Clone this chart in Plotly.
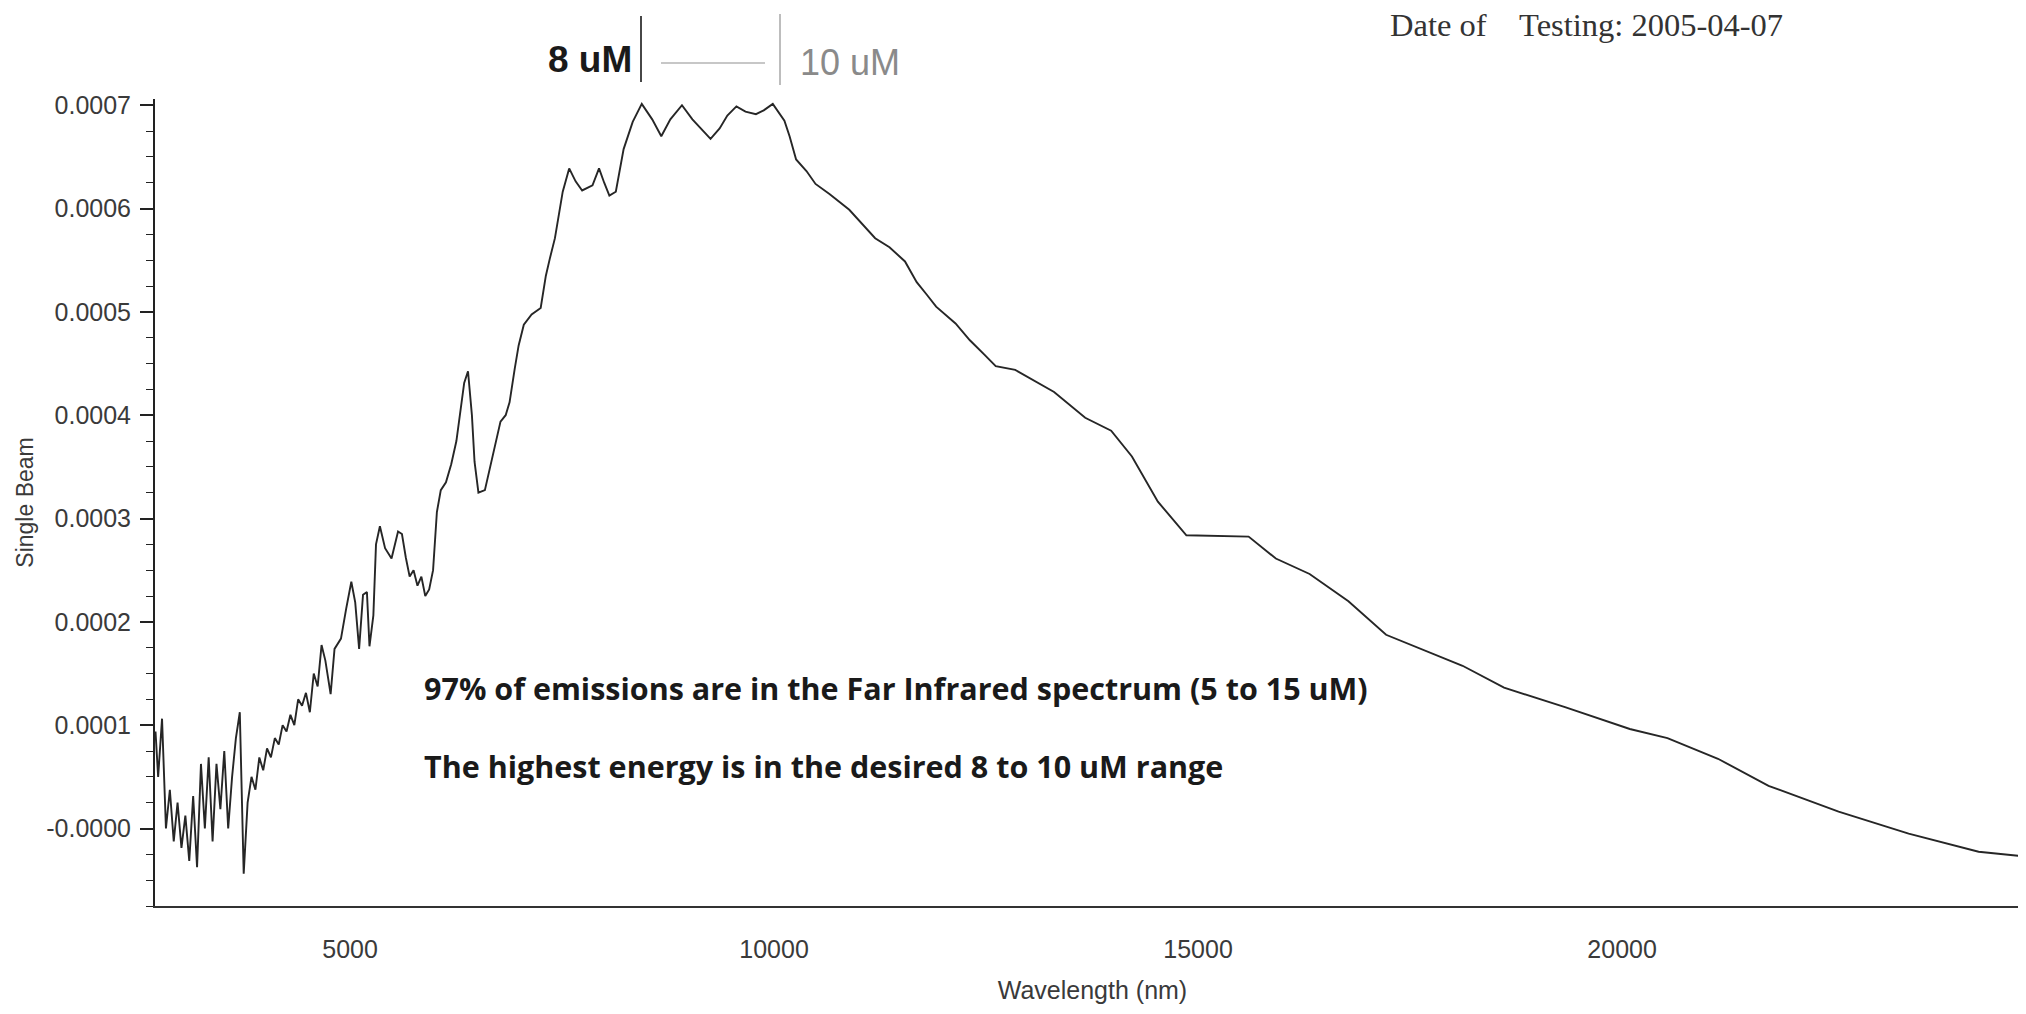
import plotly.graph_objects as go

# ---- data (wavelength in nm, single-beam signal) ----
wavelength_nm = [
    2706, 2737, 2783, 2829, 2875, 2921, 2966, 3012, 3058, 3104,
    3150, 3196, 3242, 3288, 3333, 3379, 3425, 3471, 3517, 3563,
    3609, 3654, 3700, 3746, 3792, 3838, 3884, 3930, 3976, 4021,
    4067, 4113, 4159, 4205, 4251, 4297, 4343, 4388, 4434, 4480,
    4526, 4572, 4618, 4664, 4709, 4771, 4817, 4893, 4954, 5015,
    5061, 5107, 5153, 5199, 5229, 5275, 5306, 5352, 5413, 5489,
    5566, 5612, 5657, 5703, 5749, 5795, 5841, 5887, 5933, 5979,
    6024, 6070, 6131, 6193, 6254, 6300, 6346, 6391, 6437, 6468,
    6514, 6590, 6651, 6682, 6728, 6774, 6835, 6881, 6942, 6988,
    7049, 7141, 7248, 7309, 7355, 7416, 7508, 7584, 7660, 7737,
    7859, 7936, 7997, 8058, 8134, 8226, 8333, 8440, 8563, 8670,
    8777, 8914, 9037, 9159, 9251, 9358, 9449, 9556, 9663, 9786,
    9878, 9985, 10122, 10183, 10260, 10382, 10489, 10657, 10887, 11192,
    11361, 11544, 11682, 11804, 11911, 12140, 12309, 12477, 12614, 12844,
    13058, 13302, 13669, 13975, 14220, 14526, 14862, 15596, 15917, 16315,
    16773, 17217, 18119, 18608, 19327, 20091, 20535, 21131, 21727, 22553,
    23379, 24204, 24801,
]
single_beam = [
    0.0000938, 0.0000500, 0.0001063, 0.0000000, 0.0000375, -0.0000125, 0.0000250, -0.0000188, 0.0000125, -0.0000313,
    0.0000313, -0.0000375, 0.0000625, 0.0000000, 0.0000688, -0.0000125, 0.0000625, 0.0000188, 0.0000750, 0.0000000,
    0.0000500, 0.0000875, 0.0001125, -0.0000438, 0.0000250, 0.0000500, 0.0000375, 0.0000688, 0.0000563, 0.0000775,
    0.0000688, 0.0000875, 0.0000813, 0.0001000, 0.0000938, 0.0001100, 0.0001000, 0.0001250, 0.0001188, 0.0001313,
    0.0001125, 0.0001500, 0.0001375, 0.0001775, 0.0001625, 0.0001300, 0.0001738, 0.0001838, 0.0002125, 0.0002388,
    0.0002188, 0.0001738, 0.0002263, 0.0002288, 0.0001763, 0.0002063, 0.0002750, 0.0002925, 0.0002713, 0.0002613,
    0.0002875, 0.0002850, 0.0002625, 0.0002438, 0.0002500, 0.0002350, 0.0002438, 0.0002250, 0.0002313, 0.0002500,
    0.0003063, 0.0003275, 0.0003350, 0.0003525, 0.0003750, 0.0004038, 0.0004313, 0.0004425, 0.0004000, 0.0003550,
    0.0003250, 0.0003275, 0.0003500, 0.0003625, 0.0003775, 0.0003938, 0.0004000, 0.0004125, 0.0004450, 0.0004675,
    0.0004875, 0.0004975, 0.0005038, 0.0005350, 0.0005513, 0.0005713, 0.0006163, 0.0006388, 0.0006263, 0.0006175,
    0.0006225, 0.0006388, 0.0006250, 0.0006125, 0.0006163, 0.0006575, 0.0006838, 0.0007013, 0.0006863, 0.0006700,
    0.0006863, 0.0007000, 0.0006863, 0.0006750, 0.0006675, 0.0006775, 0.0006900, 0.0006988, 0.0006938, 0.0006913,
    0.0006950, 0.0007013, 0.0006850, 0.0006700, 0.0006475, 0.0006363, 0.0006238, 0.0006138, 0.0005988, 0.0005713,
    0.0005625, 0.0005488, 0.0005288, 0.0005163, 0.0005050, 0.0004888, 0.0004725, 0.0004588, 0.0004475, 0.0004438,
    0.0004338, 0.0004225, 0.0003975, 0.0003850, 0.0003600, 0.0003163, 0.0002838, 0.0002825, 0.0002613, 0.0002463,
    0.0002200, 0.0001875, 0.0001575, 0.0001363, 0.0001175, 0.0000963, 0.0000875, 0.0000675, 0.0000413, 0.0000163,
    -0.0000050, -0.0000225, -0.0000275,
]

x_tick_vals = [5000, 10000, 15000, 20000]
x_tick_text = ["5000", "10000", "15000", "20000"]
y_tick_vals = [0.0, 0.0001, 0.0002, 0.0003, 0.0004, 0.0005, 0.0006, 0.0007]
y_tick_text = ["-0.0000", "0.0001", "0.0002", "0.0003", "0.0004", "0.0005", "0.0006", "0.0007"]

note_1 = "97% of emissions are in the Far Infrared spectrum (5 to 15 uM)"
note_2 = "The highest energy is in the desired 8 to 10 uM range"
date_text = "Date of\u00a0\u00a0\u00a0\u00a0Testing: 2005-04-07"

W, H = 2026, 1014
L, R, T, B = 147, 4, 91, 116

fig = go.Figure()
fig.add_trace(go.Scatter(
    x=wavelength_nm, y=single_beam, mode="lines",
    line=dict(color="#262626", width=1.9), showlegend=False, hoverinfo="skip",
))

axis_font = dict(family="Liberation Sans, Arial, sans-serif", size=25, color="#3a3a3a")

fig.update_layout(
    width=W, height=H,
    margin=dict(l=L, r=R, t=T, b=B, pad=0),
    paper_bgcolor="white", plot_bgcolor="white",
    xaxis=dict(
        range=[2700, 24810],
        tickmode="array", tickvals=x_tick_vals, ticktext=x_tick_text,
        ticks="", showgrid=False, zeroline=False,
        showline=True, linecolor="#333333", linewidth=1.5,
        tickfont=axis_font, ticklabelstandoff=20,
        title=dict(text="Wavelength (nm)", font=dict(family="Liberation Sans, Arial, sans-serif", size=25, color="#3a3a3a"), standoff=20),
    ),
    yaxis=dict(
        range=[-0.000075, 0.000706],
        tickmode="array", tickvals=y_tick_vals, ticktext=y_tick_text,
        ticks="outside", ticklen=13, tickwidth=1.5, tickcolor="#222222",
        showgrid=False, zeroline=False,
        showline=True, linecolor="#222222", linewidth=2,
        tickfont=axis_font, ticklabelstandoff=4,
        minor=dict(tickmode="linear", tick0=0, dtick=0.000025, ticks="outside",
                   ticklen=7, tickwidth=1.3, tickcolor="#222222", showgrid=False),
        title=dict(text="Single Beam", font=dict(family="Liberation Sans, Arial, sans-serif", size=23, color="#3a3a3a"), standoff=6),
    ),
)

def px_x(p):
    return (p - L) / (W - L - R)

def px_y(p):
    return 1 + (T - p) / (H - T - B)

note_font = dict(family="Open Sans, Lato, sans-serif", size=30.5, color="#1a1a1a", weight="bold")
fig.add_annotation(text=note_1, xref="paper", yref="paper", x=px_x(414), y=px_y(680),
                   xanchor="left", yanchor="middle", showarrow=False, font=note_font)
fig.add_annotation(text=note_2, xref="paper", yref="paper", x=px_x(414), y=px_y(758),
                   xanchor="left", yanchor="middle", showarrow=False, font=note_font)

fig.add_annotation(text="8 uM", xref="paper", yref="paper", x=px_x(626), y=px_y(52),
                   xanchor="right", yanchor="middle", showarrow=False,
                   font=dict(family="Liberation Sans, Arial, sans-serif", size=37, color="#1a1a1a", weight="bold"))
fig.add_annotation(text="10 uM", xref="paper", yref="paper", x=px_x(790), y=px_y(54),
                   xanchor="left", yanchor="middle", showarrow=False,
                   font=dict(family="Liberation Sans, Arial, sans-serif", size=36, color="#8a8a8a"))
fig.add_annotation(text=date_text, xref="paper", yref="paper", x=px_x(1380), y=px_y(17),
                   xanchor="left", yanchor="middle", showarrow=False,
                   font=dict(family="Liberation Serif, Times New Roman, serif", size=32.5, color="#333333"))

# bracket marking the 8-10 uM band above the plot
fig.add_shape(type="line", xref="paper", yref="paper", x0=px_x(633), x1=px_x(633), y0=px_y(8), y1=px_y(74),
              line=dict(color="#333333", width=1.8))
fig.add_shape(type="line", xref="paper", yref="paper", x0=px_x(772), x1=px_x(772), y0=px_y(6), y1=px_y(77),
              line=dict(color="#9a9a9a", width=1.3))
fig.add_shape(type="line", xref="paper", yref="paper", x0=px_x(653), x1=px_x(757), y0=px_y(55), y1=px_y(55),
              line=dict(color="#b5b5b5", width=1.5))

fig.write_html("out.html")
